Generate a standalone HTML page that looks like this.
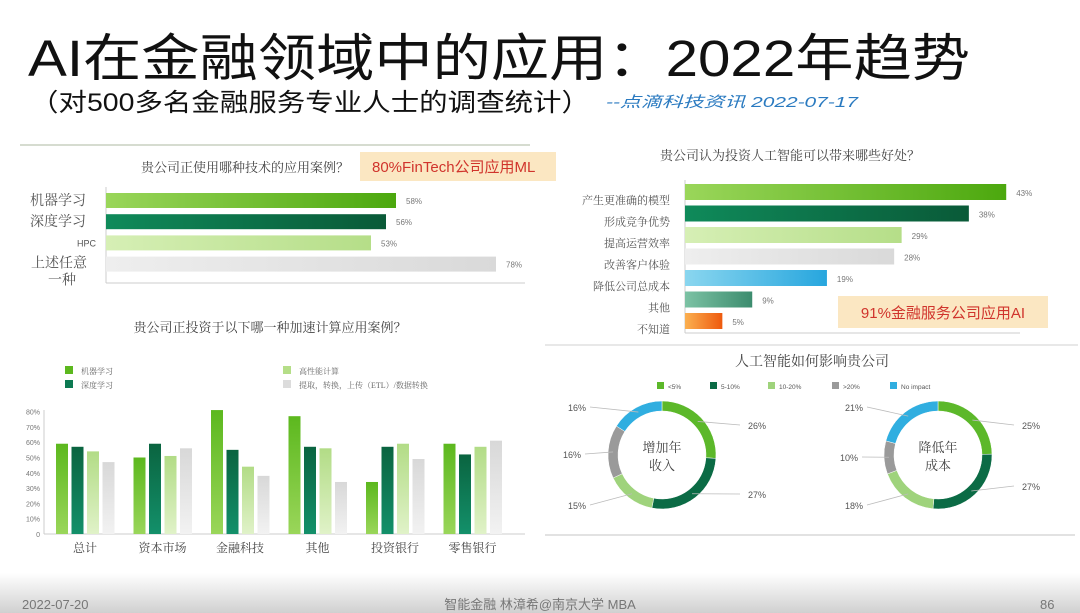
<!DOCTYPE html>
<html><head><meta charset="utf-8">
<style>
body{margin:0;width:1080px;height:613px;overflow:hidden;background:#fff;}
svg{display:block;font-family:"Liberation Sans","Noto Sans CJK SC",sans-serif;}
.serif{font-family:"Liberation Serif","Noto Serif CJK SC",serif;}
</style></head>
<body>
<svg id="s" width="1080" height="613" viewBox="0 0 1080 613" xmlns="http://www.w3.org/2000/svg">
<defs>
<linearGradient id="gFooter" x1="0" y1="0" x2="0" y2="1"><stop offset="0" stop-color="#fff"/><stop offset="1" stop-color="#d0d0d0"/></linearGradient>
<linearGradient id="gG" x1="0" x2="1"><stop offset="0" stop-color="#9ad65a"/><stop offset="1" stop-color="#4ca80e"/></linearGradient>
<linearGradient id="gD" x1="0" x2="1"><stop offset="0" stop-color="#0f8a5a"/><stop offset="1" stop-color="#0a5a38"/></linearGradient>
<linearGradient id="gL" x1="0" x2="1"><stop offset="0" stop-color="#d6efb5"/><stop offset="1" stop-color="#b5de88"/></linearGradient>
<linearGradient id="gY" x1="0" x2="1"><stop offset="0" stop-color="#eeeeee"/><stop offset="1" stop-color="#d9d9d9"/></linearGradient>
<linearGradient id="gB" x1="0" x2="1"><stop offset="0" stop-color="#8ad6ef"/><stop offset="1" stop-color="#27a6de"/></linearGradient>
<linearGradient id="gT" x1="0" x2="1"><stop offset="0" stop-color="#7cc2a4"/><stop offset="1" stop-color="#3c8c6e"/></linearGradient>
<linearGradient id="gO" x1="0" x2="1"><stop offset="0" stop-color="#fbb050"/><stop offset="1" stop-color="#ee5a0e"/></linearGradient>
<linearGradient id="vG" x1="0" y1="0" x2="0" y2="1"><stop offset="0" stop-color="#5cb81e"/><stop offset="1" stop-color="#9ad65a"/></linearGradient>
<linearGradient id="vD" x1="0" y1="0" x2="0" y2="1"><stop offset="0" stop-color="#0a6440"/><stop offset="1" stop-color="#13906a"/></linearGradient>
<linearGradient id="vL" x1="0" y1="0" x2="0" y2="1"><stop offset="0" stop-color="#b2dc86"/><stop offset="1" stop-color="#e0f2c8"/></linearGradient>
<linearGradient id="vY" x1="0" y1="0" x2="0" y2="1"><stop offset="0" stop-color="#d8d8d8"/><stop offset="1" stop-color="#f2f2f2"/></linearGradient>
</defs>

<text x="28" y="76" font-size="51" fill="#111" textLength="942" lengthAdjust="spacingAndGlyphs">AI在金融领域中的应用：2022年趋势</text>
<text x="30" y="111" font-size="25" fill="#111" textLength="560" lengthAdjust="spacingAndGlyphs">（对500多名金融服务专业人士的调查统计）</text>
<text x="606" y="107" font-size="15" font-style="italic" fill="#2a7ac0" textLength="252" lengthAdjust="spacingAndGlyphs">--点滴科技资讯  2022-07-17</text>

<line x1="20" y1="145" x2="530" y2="145" stroke="#c8d0c0" stroke-width="1.5"/>
<line x1="545" y1="345" x2="1078" y2="345" stroke="#e0e0e0" stroke-width="1.5"/>
<line x1="545" y1="535" x2="1075" y2="535" stroke="#d8d8d8" stroke-width="1.5"/>

<g id="c1">
<text class="serif" x="245" y="172" font-size="13" fill="#444" text-anchor="middle">贵公司正使用哪种技术的应用案例？</text>
<rect x="360" y="152" width="196" height="29" fill="#fbe7c2"/>
<text x="372" y="172" font-size="15" fill="#d0342c">80%FinTech公司应用ML</text>
<line x1="106" y1="187" x2="106" y2="283" stroke="#ccc"/>
<line x1="106" y1="283" x2="525" y2="283" stroke="#ccc"/>
</g>

<g id="c2">
<text class="serif" x="790" y="160" font-size="13" fill="#444" text-anchor="middle">贵公司认为投资人工智能可以带来哪些好处？</text>
<line x1="685" y1="180" x2="685" y2="333" stroke="#ccc"/>
<line x1="685" y1="333" x2="1020" y2="333" stroke="#ccc"/>
</g>

<g id="c3">
<text class="serif" x="270" y="332" font-size="13" fill="#444" text-anchor="middle">贵公司正投资于以下哪一种加速计算应用案例？</text>
</g>

<g id="c4">
<text class="serif" x="812" y="366" font-size="14" fill="#444" text-anchor="middle">人工智能如何影响贵公司</text>
</g>

<rect x="0" y="573" width="1080" height="40" fill="url(#gFooter)"/>
<text x="22" y="609" font-size="13" fill="#777">2022-07-20</text>
<text x="540" y="609" font-size="13" fill="#777" text-anchor="middle">智能金融   林漳希@南京大学 MBA</text>
<text x="1040" y="609" font-size="13" fill="#777">86</text>
</svg>

<script>
// Chart 1: tech usage
const c1Categories = ["机器学习", "深度学习", "HPC", "上述任意一种"];
const c1Values = [58, 56, 53, 78];
// Chart 2: AI benefits
const c2Categories = ["产生更准确的模型", "形成竞争优势", "提高运营效率", "改善客户体验", "降低公司总成本", "其他", "不知道"];
const c2Values = [43, 38, 29, 28, 19, 9, 5];
// Chart 3: accelerated computing
const c3Groups = ["总计", "资本市场", "金融科技", "其他", "投资银行", "零售银行"];
const c3SeriesNames = ["机器学习", "深度学习", "高性能计算", "提取，转换，上传（ETL）/数据转换"];
const c3ML = [59, 50, 81, 77, 34, 59];
const c3DL = [57, 59, 55, 57, 57, 52];
const c3HPC = [54, 51, 44, 56, 59, 57];
const c3ETL = [47, 56, 38, 34, 49, 61];
const c3Ticks = [0, 10, 20, 30, 40, 50, 60, 70, 80];
// Chart 4: donuts
const c4Legend = ["<5%", "5-10%", "10-20%", ">20%", "No impact"];
const c4Revenue = [26, 27, 15, 16, 16];
const c4Cost = [25, 27, 18, 10, 21];

const NS = "http://www.w3.org/2000/svg";
function mk(parent, tag, attrs, text) {
  const e = document.createElementNS(NS, tag);
  for (const k in attrs) e.setAttribute(k, attrs[k]);
  if (text !== undefined) e.textContent = text;
  parent.appendChild(e);
  return e;
}
const g1 = document.getElementById("c1"), g2 = document.getElementById("c2"),
      g3 = document.getElementById("c3"), g4 = document.getElementById("c4");

// ---- Chart 1
const x1 = v => 106 + v * 5.0;
const fills1 = ["url(#gG)", "url(#gD)", "url(#gL)", "url(#gY)"];
const rowY1 = i => 193 + i * 21.2;
c1Values.forEach((v, i) => {
  const r = mk(g1, "rect", {x: 106, y: rowY1(i), width: x1(v) - 106, height: 15, fill: fills1[i]});
  
  
  const t = mk(g1, "text", {x: x1(v) + 10, y: rowY1(i) + 11, "font-size": 8, fill: "#777"}, v + "%");
  
  
  const cat = c1Categories[i];
  if (cat === "HPC") {
    const l = mk(g1, "text", {x: 96, y: rowY1(i) + 11, "font-size": 9, fill: "#555", "text-anchor": "end"}, cat);
    
    
  } else if (cat.length > 4) {
    const l = mk(g1, "text", {class: "serif", x: 59, y: rowY1(i) + 11, "font-size": 14, fill: "#555", "text-anchor": "middle"}, cat.slice(0, 4));
    
    
    const l2 = mk(g1, "text", {class: "serif", x: 62, y: rowY1(i) + 28, "font-size": 14, fill: "#555", "text-anchor": "middle"}, cat.slice(4));
    
    
  } else {
    const l = mk(g1, "text", {class: "serif", x: 30, y: rowY1(i) + 12, "font-size": 14, fill: "#555"}, cat);
    
    
  }
});

// ---- Chart 2
const x2 = v => 685 + v * 7.47;
const fills2 = ["url(#gG)", "url(#gD)", "url(#gL)", "url(#gY)", "url(#gB)", "url(#gT)", "url(#gO)"];
const rowY2 = i => 184 + i * 21.5;
c2Values.forEach((v, i) => {
  const r = mk(g2, "rect", {x: 685, y: rowY2(i), width: x2(v) - 685, height: 16, fill: fills2[i]});
  
  
  const t = mk(g2, "text", {x: x2(v) + 10, y: rowY2(i) + 12, "font-size": 8, fill: "#777"}, v + "%");
  
  
  const l = mk(g2, "text", {class: "serif", x: 670, y: rowY2(i) + 20, "font-size": 11, fill: "#555", "text-anchor": "end"}, c2Categories[i]);
  
  
});
const box = mk(g2, "rect", {x: 838, y: 296, width: 210, height: 32, fill: "#fbe7c2"});


const bt = mk(g2, "text", {x: 943, y: 318, "font-size": 15, fill: "#d0342c", "text-anchor": "middle"}, "91%金融服务公司应用AI");



// ---- Chart 3
const y3 = v => 534 - v * 1.53;
const gx3 = i => 56 + i * 77.5;
const series3 = [c3ML, c3DL, c3HPC, c3ETL];
const fills3 = ["url(#vG)", "url(#vD)", "url(#vL)", "url(#vY)"];
const sw3 = ["#5cb81e", "#0d7a52", "#b5de88", "#dcdcdc"];
c3Ticks.forEach(t => {
  const e = mk(g3, "text", {x: 40, y: y3(t) + 3, "font-size": 7, fill: "#777", "text-anchor": "end"}, t === 0 ? "0" : t + "%");
  
  
});
const ax3 = mk(g3, "line", {x1: 44, y1: 534, x2: 525, y2: 534, stroke: "#ccc"});


const ay3 = mk(g3, "line", {x1: 44, y1: 410, x2: 44, y2: 534, stroke: "#ccc"});


c3Groups.forEach((g, i) => {
  series3.forEach((s, j) => {
    const r = mk(g3, "rect", {x: gx3(i) + j * 15.5, y: y3(s[i]), width: 12, height: 534 - y3(s[i]), fill: fills3[j]});
    
    
  });
  const l = mk(g3, "text", {class: "serif", x: gx3(i) + 29, y: 552, "font-size": 12, fill: "#444", "text-anchor": "middle"}, g);
  
  
});
const legPos3 = [[65, 366], [65, 380], [283, 366], [283, 380]];
c3SeriesNames.forEach((n, j) => {
  const s = mk(g3, "rect", {x: legPos3[j][0], y: legPos3[j][1], width: 8, height: 8, fill: sw3[j]});
  
  
  const t = mk(g3, "text", {class: "serif", x: legPos3[j][0] + 16, y: legPos3[j][1] + 8, "font-size": 8, fill: "#666"}, n);
  
  
});

// ---- Chart 4
const cols4 = ["#5cb82a", "#0b6b45", "#9fd37c", "#9a9a9a", "#30aee0"];
const legX4 = [657, 710, 768, 832, 890];
c4Legend.forEach((n, j) => {
  const s = mk(g4, "rect", {x: legX4[j], y: 382, width: 7, height: 7, fill: cols4[j]});
  
  
  const t = mk(g4, "text", {x: legX4[j] + 11, y: 389, "font-size": 6.5, fill: "#555"}, n);
  
  
});
function donut(cx, cy, vals, centerText, labelPos, name) {
  const R = 54, r = 44, total = vals.reduce((a, b) => a + b, 0);
  let a0 = -Math.PI / 2;
  vals.forEach((v, i) => {
    const a1 = a0 + v / total * 2 * Math.PI;
    const large = (a1 - a0) > Math.PI ? 1 : 0;
    const p = (a, rr) => (cx + rr * Math.cos(a)).toFixed(2) + " " + (cy + rr * Math.sin(a)).toFixed(2);
    const d = "M" + p(a0, R) + " A" + R + " " + R + " 0 " + large + " 1 " + p(a1, R) +
              " L" + p(a1, r) + " A" + r + " " + r + " 0 " + large + " 0 " + p(a0, r) + " Z";
    const seg = mk(g4, "path", {d: d, fill: cols4[i], stroke: "#fff", "stroke-width": 0.5});
    
    
    const am = (a0 + a1) / 2, lp = labelPos[i];
    const mx = cx + 49 * Math.cos(am), my = cy + 49 * Math.sin(am);
    const ln = mk(g4, "line", {x1: mx, y1: my, x2: lp[0] + (lp[0] > cx ? -8 : 22), y2: lp[1] - 4, stroke: "#bbb", "stroke-width": 0.8});
    
    
    const t = mk(g4, "text", {x: lp[0], y: lp[1], "font-size": 9, fill: "#555"}, v + "%");
    
    
    a0 = a1;
  });
  const c1t = mk(g4, "text", {class: "serif", x: cx, y: cy - 3, "font-size": 13, fill: "#444", "text-anchor": "middle"}, centerText[0]);
  
  
  const c2t = mk(g4, "text", {class: "serif", x: cx, y: cy + 15, "font-size": 13, fill: "#444", "text-anchor": "middle"}, centerText[1]);
  
  
}
donut(662, 455, c4Revenue, ["增加年", "收入"], [[748, 429], [748, 498], [568, 509], [563, 458], [568, 411]], "revenue-donut");
donut(938, 455, c4Cost, ["降低年", "成本"], [[1022, 429], [1022, 490], [845, 509], [840, 461], [845, 411]], "cost-donut");
</script>
</body></html>
